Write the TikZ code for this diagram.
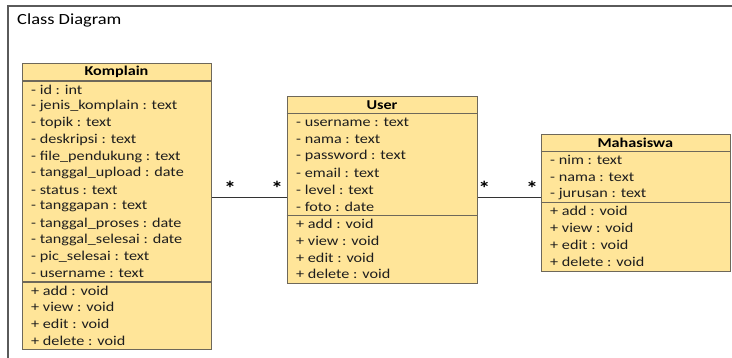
\documentclass[tikz,border=0pt]{standalone}
\usepackage{fontspec}
\setmainfont{Carlito}
\newfontfamily\rowfont[FakeStretch=1.2]{Carlito}
\newfontfamily\titlefont[FakeStretch=1.19]{Carlito}
\definecolor{boxfill}{RGB}{255,229,153}
\definecolor{boxline}{RGB}{110,104,90}
\definecolor{frameline}{RGB}{90,90,90}
\definecolor{txt}{RGB}{30,30,30}
\tikzset{
  classbox/.style={draw=boxline, line width=1.1pt, fill=boxfill, anchor=north west, inner sep=0pt},
  sepline/.style={draw=boxline, line width=1.1pt},
  rowtxt/.style={anchor=west, inner sep=0pt, font=\rowfont\fontsize{13.5}{15}\selectfont, text=txt},
  headtxt/.style={anchor=center, inner sep=0pt, font=\rowfont\fontsize{13.5}{15}\selectfont\bfseries, text=black},
  assoc/.style={draw=black!80, line width=1pt},
  mult/.style={font=\rowfont\fontsize{20}{22}\selectfont\bfseries, inner sep=0pt}
}
\begin{document}
\begin{tikzpicture}[x=1pt,y=-1pt]
\useasboundingbox (0,0) rectangle (732,358);
\fill[white] (0,0) rectangle (732,358);
% frame
\draw[frameline, line width=1.3pt] (8,358) -- (8,6) -- (733,6);
\node[anchor=west, inner sep=0pt, font=\titlefont\fontsize{15.5}{18}\selectfont, text=black] (title) at (17,20) {Class Diagram};

% Komplain
\node[classbox, minimum width=189pt, minimum height=286pt] (komplain) at (22,63) {};
\node[headtxt] (kh) at (116.5,72) {Komplain};
\draw[sepline] (22,81) -- (211,81);
\draw[sepline] (22,282) -- (211,282);
\foreach \t [count=\i from 0] in {- id : int, - jenis\_komplain : text, - topik : text, - deskripsi : text, - file\_pendukung : text, - tanggal\_upload : date, - status : text, - tanggapan : text, - tanggal\_proses : date, - tanggal\_selesai : date, - pic\_selesai : text, - username : text}
  \node[rowtxt] (ka\i) at (31,89.5+16.75*\i) {\t};
\foreach \t [count=\i from 0] in {+ add : void, + view : void, + edit : void, + delete : void}
  \node[rowtxt] (km\i) at (31,290.5+16.75*\i) {\t};

% User
\node[classbox, minimum width=190.6pt, minimum height=186.7pt] (user) at (286.7,96) {};
\node[headtxt] (uh) at (382,104.7) {User};
\draw[sepline] (286.7,113.3) -- (477.3,113.3);
\draw[sepline] (286.7,215.7) -- (477.3,215.7);
\foreach \t [count=\i from 0] in {- username : text, - nama : text, - password : text, - email : text, - level : text, - foto : date}
  \node[rowtxt] (ua\i) at (296,121.8+17.07*\i) {\t};
\foreach \t [count=\i from 0] in {+ add : void, + view : void, + edit : void, + delete : void}
  \node[rowtxt] (um\i) at (296,224.1+16.75*\i) {\t};

% Mahasiswa
\node[classbox, minimum width=189.3pt, minimum height=136.4pt] (mhs) at (540.7,134.3) {};
\node[headtxt] (mh) at (635.3,143) {Mahasiswa};
\draw[sepline] (540.7,151.7) -- (730,151.7);
\draw[sepline] (540.7,202.7) -- (730,202.7);
\foreach \t [count=\i from 0] in {- nim : text, - nama : text, - jurusan : text}
  \node[rowtxt] (ma\i) at (550,160.2+17*\i) {\t};
\foreach \t [count=\i from 0] in {+ add : void, + view : void, + edit : void, + delete : void}
  \node[rowtxt] (mm\i) at (550,211.2+17*\i) {\t};

% associations
\coordinate (cy) at (0,198);
\draw[assoc] (komplain.east |- cy) -- node[mult, pos=0.24, above=2pt] (s1) {*} node[mult, pos=0.87, above=2pt] (s2) {*} (user.west |- cy);
\draw[assoc] (user.east |- cy) -- node[mult, pos=0.095, above=2pt] (s3) {*} node[mult, pos=0.86, above=2pt] (s4) {*} (mhs.west |- cy);
\end{tikzpicture}
\end{document}
